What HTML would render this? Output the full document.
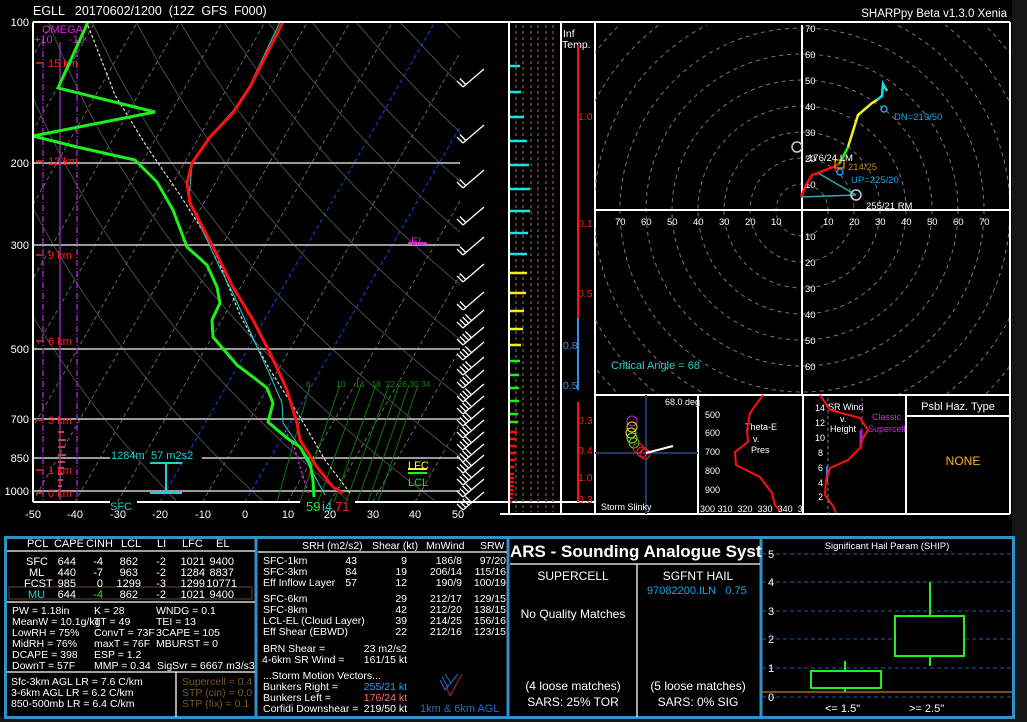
<!DOCTYPE html>
<html><head><meta charset="utf-8">
<style>
html,body{margin:0;padding:0;background:#141414;}
svg{display:block;font-family:"Liberation Sans",sans-serif;}
text{font-family:"Liberation Sans",sans-serif;white-space:pre;}
</style></head>
<body>
<svg id="s" width="1027" height="722" viewBox="0 0 1027 722" xmlns="http://www.w3.org/2000/svg">
<rect x="0" y="0" width="1027" height="722" fill="#151515"/>
<rect x="0" y="0" width="1012" height="717" fill="#000"/>
<defs>
<clipPath id="skc"><rect x="33" y="22" width="427" height="480"/></clipPath>
<clipPath id="hc"><rect x="595" y="25" width="415" height="370"/></clipPath>
</defs>
<text x="33" y="15" fill="#fff" font-size="12.5">EGLL   20170602/1200  (12Z  GFS  F000)</text>
<text x="1007" y="17" fill="#fff" font-size="11.5" text-anchor="end">SHARPpy Beta v1.3.0 Xenia</text>

<g id="skg" clip-path="url(#skc)"></g>
<g stroke="#9a9a9a" stroke-width="2">
<line x1="33" y1="163" x2="460" y2="163"/><line x1="33" y1="245" x2="460" y2="245"/>
<line x1="33" y1="349" x2="460" y2="349"/><line x1="33" y1="419" x2="460" y2="419"/>
<line x1="33" y1="458" x2="110" y2="458"/><line x1="202" y1="458" x2="460" y2="458"/>
<line x1="33" y1="491" x2="460" y2="491"/>
</g>
<g stroke="#a020c0" stroke-width="1.5" stroke-dasharray="6,2,1,2">
<line x1="43" y1="40" x2="43" y2="500"/><line x1="77" y1="40" x2="77" y2="500"/></g>
<line x1="60" y1="42" x2="60" y2="500" stroke="#8a2aa0" stroke-width="1.5"/>
<text x="42" y="33" fill="#e020e0" font-size="11">OMEGA</text>
<text x="34" y="43" fill="#e020e0" font-size="11">+10</text>
<text x="69" y="43" fill="#e020e0" font-size="11">-10</text>
<g stroke="#d04040" stroke-width="2"><line x1="58" y1="432" x2="64" y2="432"/><line x1="58" y1="440" x2="66" y2="440"/><line x1="58" y1="447" x2="65" y2="447"/><line x1="58" y1="455" x2="66" y2="455"/><line x1="58" y1="462" x2="65" y2="462"/><line x1="58" y1="468" x2="64" y2="468"/><line x1="58" y1="474" x2="63" y2="474"/><line x1="58" y1="480" x2="63" y2="480"/><line x1="58" y1="486" x2="62" y2="486"/></g>
<g fill="#ff2020" font-size="11">
<text x="48" y="67">15 km</text><text x="48" y="165">12 km</text><text x="48" y="259">9 km</text>
<text x="48" y="345">6 km</text><text x="48" y="424">3 km</text><text x="48" y="474">1 km</text><text x="48" y="497">0 km</text></g>
<g stroke="#b02020" stroke-width="2"><line x1="36" y1="63" x2="44" y2="63"/><line x1="36" y1="161" x2="44" y2="161"/><line x1="36" y1="255" x2="44" y2="255"/><line x1="36" y1="341" x2="44" y2="341"/><line x1="36" y1="420" x2="44" y2="420"/><line x1="36" y1="470" x2="44" y2="470"/><line x1="36" y1="493" x2="44" y2="493"/></g>
<g stroke="#0a7a0a" stroke-width="1">
<line x1="277" y1="502" x2="310" y2="385"/><line x1="300" y1="502" x2="340" y2="385"/><line x1="318" y1="502" x2="361" y2="385"/><line x1="334" y1="502" x2="376" y2="385"/><line x1="346" y1="502" x2="389" y2="385"/><line x1="357" y1="502" x2="399" y2="385"/><line x1="368" y1="502" x2="409" y2="385"/><line x1="378" y1="502" x2="418" y2="385"/></g>
<text x="306" y="387" fill="#0a8a0a" font-size="8.5">6</text>
<text x="336" y="387" fill="#0a8a0a" font-size="8.5">10    14   18  22 26 30 34</text>
<polyline fill="none" stroke="#ddd" stroke-width="1.2" stroke-dasharray="3,2" points="350,493 325,460 300,417 270,370 240,315 213,247 180,195 147,147 115,95 87,23"/>
<polyline fill="none" stroke="#e020e0" stroke-width="1.2" stroke-dasharray="3,2" points="308,493 295,450 285,430"/>
<polyline fill="none" stroke="#1fd0d0" stroke-width="1" points="325,495 313,473 297,443 283,423 282,403 270,375 257,347 245,320 233,293 220,268 207,240 196,217 189,200 192,164 210,136 233,111 250,85 280,22"/>
<polyline fill="none" stroke="#ff1010" stroke-width="3" points="343,493 333,487 317,467 300,440 297,423 293,410 287,390 277,368 267,347 253,320 233,287 213,247 190,203 187,183 192,163 210,137 233,113 250,87 283,22"/>
<polyline fill="none" stroke="#1ef01e" stroke-width="3" points="314,497 313,480 310,463 300,447 287,438 268,422 273,403 267,388 253,377 237,365 213,337 212,320 220,303 217,287 207,265 187,247 173,210 157,182 135,160 77,147 33,136 155,112 58,88 88,22"/>
<g stroke="#fff" stroke-width="2" fill="none">
<line x1="33" y1="22" x2="1010" y2="22"/><line x1="33" y1="22" x2="33" y2="502"/>
<line x1="33" y1="502" x2="110" y2="502"/><line x1="137" y1="502" x2="300" y2="502"/><line x1="355" y1="502" x2="595" y2="502"/>
<line x1="500" y1="514" x2="1010" y2="514"/>
</g>
<g fill="#fff" font-size="11">
<text x="29" y="26" text-anchor="end">100</text><text x="29" y="167" text-anchor="end">200</text><text x="29" y="249" text-anchor="end">300</text><text x="29" y="353" text-anchor="end">500</text><text x="29" y="423" text-anchor="end">700</text><text x="29" y="462" text-anchor="end">850</text><text x="29" y="495" text-anchor="end">1000</text>
</g>
<g fill="#fff" font-size="11" text-anchor="middle">
<text x="33" y="518">-50</text><text x="75" y="518">-40</text><text x="118" y="518">-30</text><text x="160" y="518">-20</text><text x="203" y="518">-10</text><text x="245" y="518">0</text><text x="288" y="518">10</text><text x="330" y="518">20</text><text x="373" y="518">30</text><text x="415" y="518">40</text><text x="458" y="518">50</text></g>
<text x="110" y="510" fill="#1fd0d0" font-size="11">SFC</text>
<text x="306" y="511" fill="#1ef01e" font-size="13">59</text><text x="322" y="511" fill="#1fd0d0" font-size="13">i4</text><text x="335" y="511" fill="#ff2020" font-size="13">71</text>
<text x="111" y="459" fill="#1fd0d0" font-size="11">1284m</text><text x="151" y="459" fill="#1fd0d0" font-size="11">57 m2s2</text>
<g stroke="#1fd0d0" stroke-width="2"><line x1="150" y1="463" x2="182" y2="463"/><line x1="150" y1="493" x2="182" y2="493"/><line x1="166" y1="463" x2="166" y2="493"/></g>
<text x="411" y="245" fill="#e020e0" font-size="11">EL</text><line x1="408" y1="243" x2="427" y2="243" stroke="#e020e0" stroke-width="2"/>
<text x="408" y="469" fill="#ffff20" font-size="11">LFC</text><line x1="408" y1="469" x2="427" y2="469" stroke="#ffff20" stroke-width="2"/>
<line x1="408" y1="473" x2="427" y2="473" stroke="#1ef01e" stroke-width="2"/><text x="408" y="486" fill="#1ef01e" font-size="11">LCL</text>
<g id="barbs" stroke="#fff" stroke-width="1.3" fill="none"></g>

<g id="bars"></g>
<g stroke="#fff" stroke-width="2"><line x1="509" y1="22" x2="509" y2="514"/><line x1="561" y1="22" x2="561" y2="514"/><line x1="595" y1="22" x2="595" y2="514"/></g>
<text x="563" y="37" fill="#fff" font-size="10.5">Inf</text><text x="562" y="48" fill="#fff" font-size="10.5">Temp.</text>
<line x1="578" y1="45" x2="578" y2="318" stroke="#ff1010" stroke-width="2"/>
<line x1="578" y1="318" x2="578" y2="390" stroke="#3090e0" stroke-width="2"/>
<line x1="578" y1="402" x2="578" y2="502" stroke="#ff1010" stroke-width="2"/>
<g fill="#ff2020" font-size="10.5"><text x="578" y="120">1.0</text><text x="578" y="227">0.1</text><text x="578" y="297">0.5</text><text x="578" y="424">0.3</text><text x="578" y="454">0.4</text><text x="578" y="481">1.0</text><text x="578" y="503">0.3</text></g>
<g fill="#3090e0" font-size="10.5"><text x="563" y="349">0.8</text><text x="563" y="389">0.5</text></g>

<g id="hod" clip-path="url(#hc)"></g>
<g stroke="#fff" stroke-width="2"><line x1="595" y1="210" x2="1010" y2="210"/><line x1="802" y1="25" x2="802" y2="395"/><line x1="1010" y1="22" x2="1010" y2="514"/><line x1="595" y1="395" x2="1010" y2="395"/></g>
<g id="hlab" fill="#fff" font-size="9.5"></g>
<g fill="none" stroke-width="1.5">
<line x1="818" y1="173" x2="856" y2="195" stroke="#1fb0b0"/><line x1="856" y1="195" x2="801" y2="197" stroke="#1fb0b0"/>
<polyline stroke="#ff1010" stroke-width="2.5" points="801,197 806,185 812,175 818,173 833,167 839,164"/>
<polyline stroke="#1ef01e" stroke-width="2.5" points="839,164 843,157 848,147"/>
<polyline stroke="#f0f020" stroke-width="2.5" points="848,147 858,115 872,103 877,100"/>
<polyline stroke="#1fe0e0" stroke-width="2.5" points="877,100 882,96 883,84 887,91"/>
<circle cx="797" cy="147" r="5" stroke="#ccc"/><circle cx="856" cy="195" r="5" stroke="#ccc"/>
<circle cx="884" cy="109" r="3" stroke="#19a4e6"/><circle cx="840" cy="172" r="3" stroke="#19a4e6"/>
<rect x="835" y="160" width="9" height="8" stroke="#c08010"/>
</g>
<text x="894" y="120" fill="#19a4e6" font-size="9.5">DN=219/50</text>
<text x="851" y="183" fill="#19a4e6" font-size="9.5">UP=225/20</text>
<text x="848" y="170" fill="#c08010" font-size="9.5">214/25</text>
<text x="808" y="161" fill="#fff" font-size="9.5">176/24 LM</text>
<text x="866" y="209" fill="#fff" font-size="9.5">255/21 RM</text>
<text x="611" y="369" fill="#1fd0d0" font-size="11">Critical Angle = 68</text>

<g stroke="#fff" stroke-width="2"><line x1="698" y1="395" x2="698" y2="514"/><line x1="803" y1="395" x2="803" y2="514"/><line x1="906" y1="395" x2="906" y2="514"/><line x1="906" y1="416" x2="1010" y2="416"/></g>
<g stroke="#1a3a6a" stroke-width="2"><line x1="646" y1="395" x2="646" y2="514"/><line x1="595" y1="453" x2="698" y2="453"/></g>
<g fill="none" stroke-width="1"><circle cx="632" cy="421" r="5" stroke="#d020d0"/><circle cx="632" cy="427" r="5" stroke="#e0e020"/><circle cx="631" cy="433" r="5" stroke="#e0e020"/><circle cx="632" cy="438" r="5" stroke="#90e020"/><circle cx="634" cy="443" r="5" stroke="#30e020"/><circle cx="638" cy="448" r="5" stroke="#ff2020"/><circle cx="642" cy="452" r="5" stroke="#ff2020"/><circle cx="645" cy="454" r="5" stroke="#ff2020"/></g>
<line x1="646" y1="453" x2="673" y2="446" stroke="#fff" stroke-width="2"/>
<text x="665" y="405" fill="#fff" font-size="9">68.0 deg</text>
<text x="601" y="510" fill="#fff" font-size="9">Storm Slinky</text>
<g fill="#fff" font-size="9"><text x="705" y="418">500</text><text x="705" y="436">600</text><text x="705" y="455">700</text><text x="705" y="474">800</text><text x="705" y="493">900</text><text x="700" y="512">300 310  320  330  340  3</text>
<text x="745" y="430">Theta-E</text><text x="753" y="442">v.</text><text x="751" y="453">Pres</text></g>
<polyline fill="none" stroke="#ff1010" stroke-width="2" points="763,395 750,413 747,430 748,442 735,452 736,465 760,477 772,493 775,505 780,511"/>
<g fill="#fff" font-size="9"><text x="815" y="411">14</text><text x="815" y="426">12</text><text x="815" y="441">10</text><text x="818" y="456">8</text><text x="818" y="471">6</text><text x="818" y="486">4</text><text x="818" y="500">2</text>
<text x="828" y="410">SR Wind</text><text x="840" y="422">v.</text><text x="830" y="432">Height</text></g>
<line x1="828" y1="398" x2="828" y2="514" stroke="#888" stroke-dasharray="3,3"/>
<line x1="862" y1="398" x2="862" y2="452" stroke="#7020a0" stroke-dasharray="3,3" stroke-width="1.5"/>
<text x="872" y="420" fill="#c030e0" font-size="9">Classic</text><text x="868" y="432" fill="#c030e0" font-size="9">Supercell</text>
<line x1="861" y1="430" x2="861" y2="445" stroke="#a020e0" stroke-width="3"/>
<line x1="827" y1="466" x2="827" y2="482" stroke="#4080e0" stroke-width="2"/>
<polyline fill="none" stroke="#ff1010" stroke-width="2" points="820,395 830,410 860,418 868,430 862,440 860,448 848,460 830,468 826,480 825,495 833,506 836,513"/>
<text x="958" y="410" fill="#fff" font-size="11" text-anchor="middle">Psbl Haz. Type</text>
<text x="963" y="465" fill="#ffb020" font-size="12" text-anchor="middle">NONE</text>

<rect x="5.5" y="537.5" width="1008" height="180" fill="none" stroke="#2e92c8" stroke-width="3"/>
<g stroke="#2e92c8" stroke-width="3"><line x1="256" y1="537" x2="256" y2="717"/><line x1="508" y1="537" x2="508" y2="717"/><line x1="761" y1="537" x2="761" y2="717"/></g>
<g stroke="#fff" stroke-width="1.3"><line x1="7" y1="551" x2="255" y2="551"/><line x1="7" y1="602" x2="255" y2="602"/><line x1="7" y1="672" x2="255" y2="672"/><line x1="176" y1="672" x2="176" y2="717"/><line x1="258" y1="552" x2="507" y2="552"/><line x1="510" y1="564" x2="760" y2="564"/><line x1="637" y1="564" x2="637" y2="717"/></g>
<rect x="9" y="587" width="243" height="12" fill="none" stroke="#5a3a1a" stroke-width="1.2"/>
<g fill="#fff" font-size="11">
<text x="27" y="547">PCL</text><text x="54" y="547">CAPE</text><text x="86" y="547">CINH</text><text x="121" y="547">LCL</text><text x="157" y="547">LI</text><text x="182" y="547">LFC</text><text x="216" y="547">EL</text>
<text x="26" y="565">SFC</text><text x="29" y="576">ML</text><text x="24" y="587">FCST</text>
<g text-anchor="end"><text x="76" y="565">644</text><text x="76" y="576">440</text><text x="76" y="587">985</text><text x="76" y="598">644</text>
<text x="103" y="565">-4</text><text x="103" y="576">-7</text><text x="103" y="587">0</text>
<text x="138" y="565">862</text><text x="138" y="576">963</text><text x="141" y="587">1299</text><text x="138" y="598">862</text>
<text x="166" y="565">-2</text><text x="166" y="576">-2</text><text x="166" y="587">-3</text><text x="166" y="598">-2</text>
<text x="205" y="565">1021</text><text x="205" y="576">1284</text><text x="205" y="587">1299</text><text x="205" y="598">1021</text>
<text x="234" y="565">9400</text><text x="234" y="576">8837</text><text x="237" y="587">10771</text><text x="234" y="598">9400</text></g>
<g font-size="10.5">
<text x="12" y="614">PW = 1.18in</text><text x="94" y="614">K = 28</text><text x="156" y="614">WNDG = 0.1</text>
<text x="12" y="625">MeanW = 10.1g/kg</text><text x="94" y="625">TT = 49</text><text x="156" y="625">TEI = 13</text>
<text x="12" y="636">LowRH = 75%</text><text x="94" y="636">ConvT = 73F</text><text x="156" y="636">3CAPE = 105</text>
<text x="12" y="647">MidRH = 76%</text><text x="94" y="647">maxT = 76F</text><text x="156" y="647">MBURST = 0</text>
<text x="12" y="658">DCAPE = 398</text><text x="94" y="658">ESP = 1.2</text>
<text x="12" y="669">DownT = 57F</text><text x="94" y="669">MMP = 0.34</text><text x="157" y="669">SigSvr = 6667 m3/s3</text>
<text x="11" y="685">Sfc-3km AGL LR = 7.6 C/km</text><text x="11" y="696">3-6km AGL LR = 6.2 C/km</text><text x="11" y="707">850-500mb LR = 6.4 C/km</text>
</g></g>
<text x="28" y="598" fill="#1fd0d0" font-size="11">MU</text><text x="103" y="598" fill="#1ef01e" font-size="11" text-anchor="end">-4</text>
<g fill="#7a5a20" font-size="10.5"><text x="182" y="685">Supercell = 0.4</text><text x="182" y="696">STP (cin) = 0.0</text><text x="182" y="707">STP (fix) = 0.1</text></g>
<g fill="#fff" font-size="10.5">
<text x="302" y="549">SRH (m2/s2)</text><text x="372" y="549">Shear (kt)</text><text x="426" y="549">MnWind</text><text x="480" y="549">SRW</text>
<text x="263" y="564">SFC-1km</text><text x="263" y="575">SFC-3km</text><text x="263" y="586">Eff Inflow Layer</text>
<text x="263" y="602">SFC-6km</text><text x="263" y="613">SFC-8km</text><text x="263" y="624">LCL-EL (Cloud Layer)</text><text x="263" y="635">Eff Shear (EBWD)</text>
<g text-anchor="end"><text x="357" y="564">43</text><text x="357" y="575">84</text><text x="357" y="586">57</text><text x="407" y="564">9</text><text x="407" y="575">19</text><text x="407" y="586">12</text><text x="407" y="602">29</text><text x="407" y="613">42</text><text x="407" y="624">39</text><text x="407" y="635">22</text>
<text x="462" y="564">186/8</text><text x="462" y="575">206/14</text><text x="462" y="586">190/9</text><text x="462" y="602">212/17</text><text x="462" y="613">212/20</text><text x="462" y="624">214/25</text><text x="462" y="635">212/16</text>
<text x="506" y="564">97/20</text><text x="506" y="575">115/16</text><text x="506" y="586">100/19</text><text x="506" y="602">129/15</text><text x="506" y="613">138/15</text><text x="506" y="624">156/16</text><text x="506" y="635">123/15</text>
<text x="407" y="652">23 m2/s2</text><text x="407" y="663">161/15 kt</text><text x="407" y="690" fill="#19a4e6">255/21 kt</text><text x="407" y="701" fill="#ff7070">176/24 kt</text><text x="407" y="712">219/50 kt</text></g>
<text x="263" y="652">BRN Shear =</text><text x="262" y="663">4-6km SR Wind =</text><text x="263" y="679">...Storm Motion Vectors...</text>
<text x="263" y="690">Bunkers Right =</text><text x="263" y="701">Bunkers Left =</text><text x="263" y="712">Corfidi Downshear =</text>
</g>
<g stroke="#1f6fd0" stroke-width="1"><line x1="445" y1="690" x2="458" y2="674"/><line x1="445" y1="690" x2="440" y2="680"/><line x1="448" y1="687" x2="442" y2="677"/><line x1="451" y1="683" x2="445" y2="674"/></g>
<g stroke="#c02020" stroke-width="1"><line x1="450" y1="696" x2="462" y2="674"/><line x1="450" y1="696" x2="446" y2="686"/></g>
<text x="420" y="712" fill="#1f6fd0" font-size="11">1km &amp; 6km AGL</text>
<text x="510" y="557" fill="#fff" font-size="17" font-weight="bold">ARS - Sounding Analogue Syst</text>
<g fill="#fff" font-size="12" text-anchor="middle"><text x="573" y="580">SUPERCELL</text><text x="698" y="580">SGFNT HAIL</text><text x="573" y="618">No Quality Matches</text><text x="573" y="690">(4 loose matches)</text><text x="698" y="690">(5 loose matches)</text><text x="573" y="706">SARS: 25% TOR</text><text x="698" y="706">SARS: 0% SIG</text></g>
<text x="647" y="594" fill="#19a4e6" font-size="11">97082200.ILN   0.75</text>
<text x="887" y="549" fill="#fff" font-size="9.5" text-anchor="middle">Significant Hail Param (SHIP)</text>
<g stroke="#1a4a8a" stroke-width="1.3" stroke-dasharray="4,3"><line x1="762" y1="554" x2="1012" y2="554"/><line x1="762" y1="582" x2="1012" y2="582"/><line x1="762" y1="611" x2="1012" y2="611"/><line x1="762" y1="639" x2="1012" y2="639"/><line x1="762" y1="668" x2="1012" y2="668"/><line x1="762" y1="697" x2="1012" y2="697"/></g>
<line x1="762" y1="692" x2="1012" y2="692" stroke="#7a5010" stroke-width="2"/>
<g fill="#fff" font-size="11"><text x="768" y="558">5</text><text x="768" y="586">4</text><text x="768" y="615">3</text><text x="768" y="643">2</text><text x="768" y="672">1</text><text x="768" y="701">0</text><text x="825" y="712">&lt;= 1.5"</text><text x="909" y="712">&gt;= 2.5"</text></g>
<g stroke="#1ef01e" stroke-width="2" fill="none"><line x1="845" y1="661" x2="845" y2="692"/><rect x="811" y="671" width="70" height="17" fill="#000"/><line x1="930" y1="582" x2="930" y2="666"/><rect x="895" y="616" width="69" height="40" fill="#000"/></g>
</svg>
<script>
(function(){
var NS="http://www.w3.org/2000/svg";
function el(p,t,a){var e=document.createElementNS(NS,t);for(var k in a)e.setAttribute(k,a[k]);p.appendChild(e);return e;}
function Y(p){return 22+203.5*Math.log(p/100);}
function X(T,y){return 245+4.25*T+(502-y)*0.573;}
var g=document.getElementById('skg');
for(var T=-120;T<=50;T+=10){var c=(T==0||T==-20)?'#2040e0':'#666';
el(g,'line',{x1:X(T,502),y1:502,x2:X(T,22),y2:22,stroke:c,'stroke-width':1,'stroke-dasharray':'4,3'});}
for(var th=-20;th<=220;th+=20){var pts=[];for(var p=1050;p>=100;p-=25){var t=(th+273.15)*Math.pow(p/1000,0.286)-273.15;var y=Y(p);pts.push(X(t,y).toFixed(1)+','+y.toFixed(1));}
el(g,'polyline',{points:pts.join(' '),fill:'none',stroke:'#4a4a4a','stroke-width':1});}
var b=document.getElementById('barbs');
var ys=[77,133,178,215,245,272,300,318,335,350,365,378,392,404,416,428,440,452,463,475,487,500];
ys.forEach(function(y,i){el(b,'line',{x1:463,y1:y+10,x2:484,y2:y-8});var n=i<7?2:4;for(var k=0;k<n;k++){var yy=y+10-k*2.5,xx=463+k*2.8;el(b,'line',{x1:xx,y1:yy,x2:xx-6,y2:yy-6});}});
var br=document.getElementById('bars');
for(var x of [516,523,531,538,546,553])el(br,'line',{x1:x,y1:25,x2:x,y2:512,stroke:'#6a4a30','stroke-width':1.5,'stroke-dasharray':'3,3'});
var bl=[[66,11,'#1fe0e0'],[92,12,'#1fe0e0'],[117,15,'#1fe0e0'],[141,18,'#1fe0e0'],[165,20,'#1fe0e0'],[189,21,'#1fe0e0'],[211,21,'#1fe0e0'],[233,19,'#1fe0e0'],[254,18,'#1fe0e0'],[273,18,'#f0f020'],[293,17,'#f0f020'],[311,15,'#f0f020'],[329,14,'#f0f020'],[345,12,'#f0f020'],[361,11,'#1ef01e'],[375,10,'#1ef01e'],[388,10,'#1ef01e'],[401,10,'#1ef01e'],[414,9,'#1ef01e'],[422,9,'#1ef01e']];
for(var y=432;y<506;y+=(y<470?7:4))bl.push([y,Math.max(3,8-(y-432)/15),'#ff1010']);
bl.forEach(function(a){el(br,'line',{x1:509,y1:a[0],x2:509+a[1],y2:a[0],stroke:a[2],'stroke-width':2.5});});
var h=document.getElementById('hod');
for(var r=26;r<=300;r+=26)el(h,'circle',{cx:802,cy:210,r:r,fill:'none',stroke:'#777','stroke-dasharray':'4,4','stroke-width':1});
var hl=document.getElementById('hlab');
for(var k=1;k<=7;k++){var d=k*26;el(hl,'text',{x:805,y:210-d+4}).textContent=k*10;if(k<7)el(hl,'text',{x:805,y:210+d+4}).textContent=k*10;
if(802+d<1005)el(hl,'text',{x:802+d-5,y:225}).textContent=k*10;if(802-d>598)el(hl,'text',{x:802-d-5,y:225}).textContent=k*10;}
})();
</script>
</body></html>
